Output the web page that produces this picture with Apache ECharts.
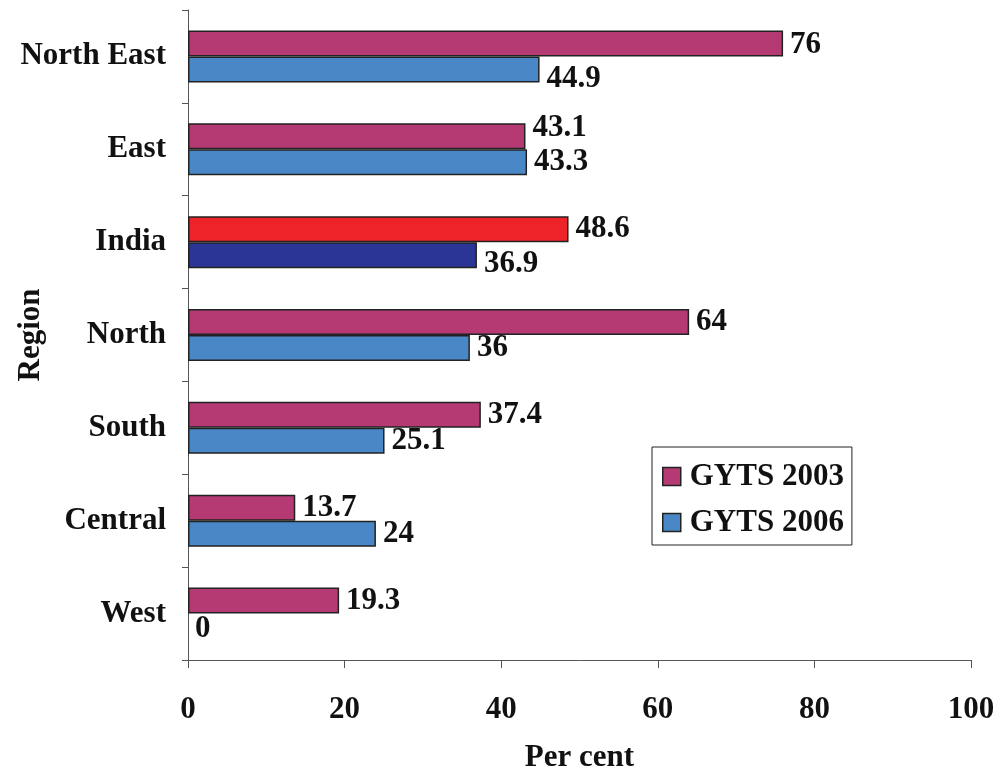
<!doctype html>
<html>
    <head>
        <meta charset="utf-8">
        <title>GYTS by region</title>
        <style>
            html, body { margin: 0; padding: 0; background: #fff; }
            #main { width: 997px; height: 770px; }
        </style>
    </head>
    <body>
        <div id="main"></div>
        <script src="https://cdn.jsdelivr.net/npm/echarts@6/dist/echarts.min.js"></script>
        <script>
            var regions = ['West', 'Central', 'South', 'North', 'India', 'East', 'North East'];
            var gyts2003 = [19.3, 13.7, 37.4, 64, 48.6, 43.1, 76];
            var gyts2006 = [0, 24, 25.1, 36, 36.9, 43.3, 44.9];
            var xTicks = [0, 20, 40, 60, 80, 100];

            var font = 'Liberation Serif';
            var fontSize = 31;
            var chart = echarts.init(document.getElementById('main'));

            // a few labels are nudged like in the original
            var labelShift2003 = {'East': -8, 'North East': 2};
            var labelShift2006 = {'India': 9, 'North East': 10, 'West': 2};

            function makeData(values, shift, indiaColor) {
                return values.map(function (v, i) {
                    var item = {value: v};
                    if (regions[i] === 'India') {
                        item.itemStyle = {color: indiaColor};
                    }
                    if (v === 0) {
                        item.itemStyle = {borderWidth: 0};
                    }
                    if (shift[regions[i]]) {
                        item.label = {offset: [0, shift[regions[i]]]};
                    }
                    return item;
                });
            }

            var labelStyle = {
                show: true,
                position: 'right',
                distance: 7,
                color: '#111',
                fontFamily: font,
                fontWeight: 'bold',
                fontSize: fontSize
            };

            chart.setOption({
                animation: false,
                grid: {
                    left: 188,
                    right: 26,
                    top: 10,
                    bottom: 110,
                    outerBoundsMode: 'none',
                    containLabel: false
                },
                legend: {
                    orient: 'vertical',
                    left: 652,
                    top: 447,
                    padding: [14, 8, 7, 10],
                    itemGap: 15,
                    itemWidth: 18,
                    itemHeight: 18,
                    borderColor: '#222',
                    borderWidth: 1,
                    icon: 'rect',
                    itemStyle: {borderColor: '#222', borderWidth: 1.5},
                    textStyle: {
                        color: '#111',
                        fontFamily: font,
                        fontWeight: 'bold',
                        fontSize: fontSize,
                        padding: [0, 0, 0, 4]
                    },
                    data: ['GYTS 2003', 'GYTS 2006']
                },
                xAxis: {
                    type: 'value',
                    min: xTicks[0],
                    max: xTicks[xTicks.length - 1],
                    interval: 20,
                    name: 'Per cent',
                    nameLocation: 'middle',
                    nameGap: 82,
                    nameMoveOverlap: false,
                    nameTextStyle: {
                        color: '#111',
                        fontFamily: font,
                        fontWeight: 'bold',
                        fontSize: fontSize
                    },
                    axisLine: {show: true, lineStyle: {color: '#555', width: 1}},
                    axisTick: {show: true, length: 8, lineStyle: {color: '#555'}},
                    splitLine: {show: false},
                    axisLabel: {
                        margin: 34,
                        color: '#111',
                        fontFamily: font,
                        fontWeight: 'bold',
                        fontSize: fontSize
                    }
                },
                yAxis: {
                    type: 'category',
                    data: regions,
                    name: 'Region',
                    nameLocation: 'middle',
                    nameGap: 142,
                    nameMoveOverlap: false,
                    nameRotate: 90,
                    nameTextStyle: {
                        color: '#111',
                        fontFamily: font,
                        fontWeight: 'bold',
                        fontSize: fontSize
                    },
                    axisLine: {show: true, lineStyle: {color: '#555', width: 1}},
                    axisTick: {show: true, length: 6, lineStyle: {color: '#555'}},
                    axisLabel: {
                        margin: 22,
                        color: '#111',
                        fontFamily: font,
                        fontWeight: 'bold',
                        fontSize: fontSize
                    }
                },
                series: [{
                    name: 'GYTS 2003',
                    type: 'bar',
                    barWidth: 26,
                    barGap: '0%',
                    itemStyle: {color: '#b53a73', borderColor: '#222', borderWidth: 1.5},
                    label: labelStyle,
                    data: makeData(gyts2003, labelShift2003, '#ee2229')
                }, {
                    name: 'GYTS 2006',
                    type: 'bar',
                    barWidth: 26,
                    barGap: '0%',
                    itemStyle: {color: '#4a87c6', borderColor: '#222', borderWidth: 1.5},
                    label: labelStyle,
                    data: makeData(gyts2006, labelShift2006, '#2b3595')
                }]
            });

            window.onresize = chart.resize;
        </script>
    </body>
</html>
